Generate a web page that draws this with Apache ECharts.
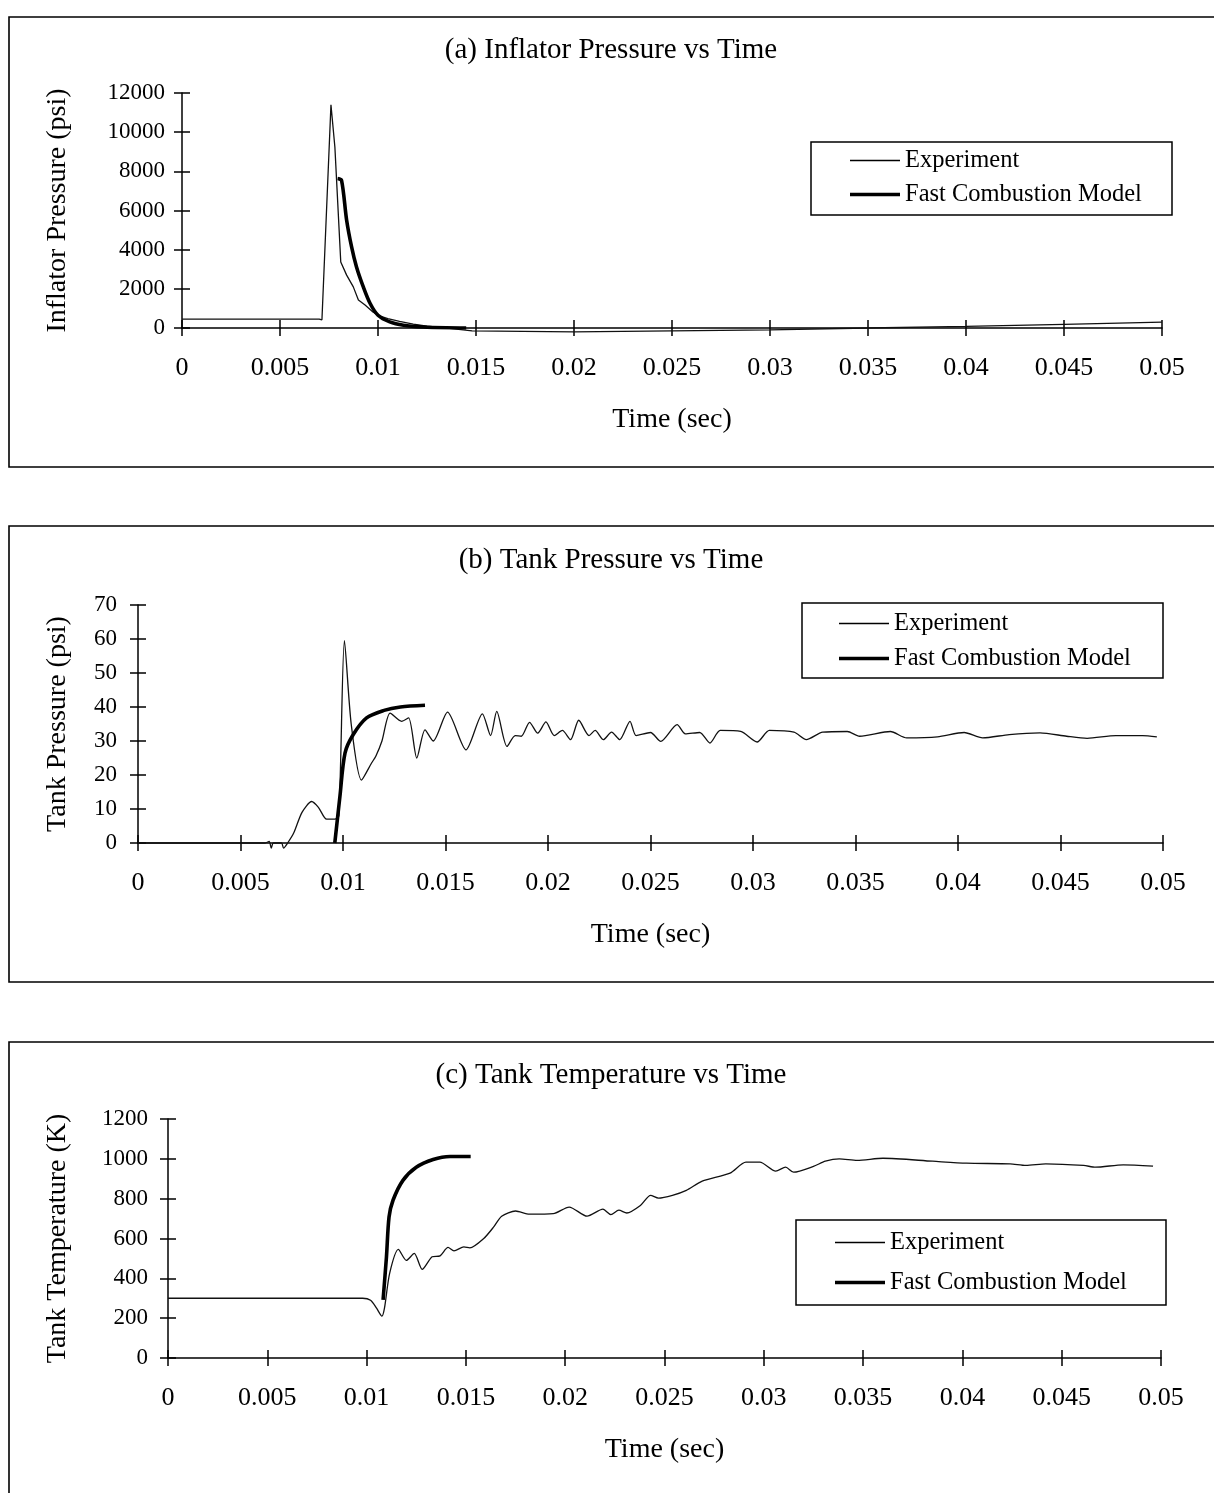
<!DOCTYPE html>
<html>
<head>
<meta charset="utf-8">
<script src="https://cdn.jsdelivr.net/npm/echarts@6/dist/echarts.min.js"></script>
<style>
html,body{margin:0;padding:0;background:#fff;}
#c{width:1214px;height:1493px;}
</style>
</head>
<body>
<div id="c"></div>
<script>
// ---------------- DATA ----------------
var titles = ['(a) Inflator Pressure vs Time', '(b) Tank Pressure vs Time', '(c) Tank Temperature vs Time'];
var yNames = ['Inflator Pressure (psi)', 'Tank Pressure (psi)', 'Tank Temperature (K)'];
var xName = 'Time (sec)';
var seriesNames = ['Experiment', 'Fast Combustion Model'];
var xMin = 0, xMax = 0.05, xStep = 0.005;
var yRanges = [[0, 12000, 2000], [0, 70, 10], [0, 1200, 200]];

// (a) Inflator pressure
var expA_t = [0, 0.007, 0.00714, 0.0076, 0.0078, 0.0081, 0.0084, 0.00874, 0.009, 0.00934, 0.0097, 0.01, 0.0105, 0.0111, 0.0118, 0.0125, 0.0132, 0.014, 0.0148, 0.02, 0.025, 0.03, 0.035, 0.04, 0.045, 0.05];
var expA_p = [450, 450, 420, 11400, 9240, 3370, 2700, 2100, 1430, 1170, 850, 650, 480, 340, 200, 90, 30, -60, -150, -200, -150, -100, 0, 80, 180, 300];
var modA_t = [0.00794, 0.00814, 0.0084, 0.00865, 0.0089, 0.00925, 0.0096, 0.01, 0.0106, 0.0113, 0.0123, 0.0135, 0.0145];
var modA_p = [7630, 7540, 5500, 4150, 3130, 2100, 1250, 650, 310, 140, 50, 10, 0];

// (b) Tank pressure
var expB_t = [0, 0.0062, 0.0064, 0.0065, 0.0066, 0.007, 0.0071, 0.0073, 0.0076, 0.008, 0.00847, 0.0088, 0.0092, 0.0096, 0.0098, 0.01007, 0.0104, 0.0109, 0.0114, 0.0116, 0.0119, 0.0123, 0.01286, 0.0132, 0.0136, 0.014, 0.0144, 0.0151, 0.016, 0.0168, 0.0172, 0.0175, 0.018, 0.0184, 0.0187, 0.0191, 0.0195, 0.0199, 0.0203, 0.0207, 0.0211, 0.0215, 0.022, 0.0223, 0.0227, 0.0231, 0.0235, 0.024, 0.0243, 0.025, 0.0255, 0.0263, 0.0267, 0.0274, 0.0279, 0.0284, 0.0294, 0.0302, 0.0308, 0.032, 0.0326, 0.0334, 0.0346, 0.0352, 0.0367, 0.0375, 0.039, 0.0403, 0.0412, 0.0425, 0.044, 0.0453, 0.0463, 0.0477, 0.049, 0.0497];
var expB_p = [0, 0, 0.5, -1.5, 0, 0, -1.5, 0, 3, 9, 12.2, 10.5, 7, 7, 8, 59.5, 35, 18.5, 23.6, 25.5, 30, 38.2, 35.8, 36.8, 25, 33.3, 30, 38.5, 27.4, 38, 31.6, 38.7, 28.4, 31.6, 31.4, 35.5, 32.3, 35.6, 31.6, 33.1, 30.4, 36.1, 31.6, 33.1, 30.4, 32.6, 30.4, 35.8, 31.6, 32.5, 29.9, 34.8, 32.1, 32.5, 29.4, 33.1, 32.8, 29.7, 33.1, 32.6, 30.4, 32.6, 32.8, 31.4, 32.8, 30.9, 31.2, 32.5, 30.9, 31.9, 32.4, 31.4, 30.8, 31.6, 31.6, 31.2];
var modB_t = [0.0096, 0.00985, 0.0101, 0.0105, 0.01115, 0.012, 0.0128, 0.014];
var modB_p = [0, 13.7, 26.5, 31.9, 36.8, 39, 40, 40.5];

// (c) Tank temperature
var expC_t = [0, 0.0098, 0.0102, 0.0105, 0.01077, 0.0109, 0.01116, 0.0116, 0.012, 0.0124, 0.0128, 0.0133, 0.0137, 0.0141, 0.0144, 0.0149, 0.0152, 0.0159, 0.0164, 0.0168, 0.0175, 0.0182, 0.0194, 0.0202, 0.0211, 0.0219, 0.0223, 0.0227, 0.0231, 0.0238, 0.0243, 0.0247, 0.0254, 0.0261, 0.0269, 0.0283, 0.0291, 0.0298, 0.0306, 0.0311, 0.0315, 0.0325, 0.0331, 0.0338, 0.0347, 0.036, 0.0385, 0.0402, 0.0424, 0.0432, 0.0442, 0.0461, 0.0467, 0.0481, 0.0496];
var expC_v = [300, 300, 290, 250, 210, 250, 425, 545, 490, 525, 445, 508, 513, 555, 538, 558, 553, 600, 658, 712, 738, 722, 725, 758, 712, 747, 720, 742, 728, 767, 817, 803, 817, 842, 888, 928, 983, 983, 938, 958, 933, 962, 988, 1000, 992, 1003, 988, 978, 975, 967, 975, 967, 958, 970, 963];
var modC_t = [0.01083, 0.011, 0.01113, 0.01133, 0.01183, 0.0125, 0.01335, 0.0142, 0.01524];
var modC_v = [292, 508, 708, 792, 892, 958, 997, 1012, 1012];

// ---------------- LAYOUT ----------------
var FONT = 'Liberation Serif';
var grids = [
  {left: 182, top: 93, width: 980, height: 235},
  {left: 138, top: 605, width: 1025, height: 238},
  {left: 168, top: 1119, width: 993, height: 239}
];
var yLabelMargin = [17, 21, 20];
var yNameGap = [110, 66, 96];
var titleCenters = [50, 560, 1075];
var panelBoxes = [[9, 17, 1230, 450], [9, 526, 1230, 456], [9, 1042, 1230, 480]];
var legendBoxes = [[811, 142, 361, 73], [802, 603, 361, 75], [796, 1220, 370, 85]];
var legendPos = [[850, 148, 9], [839, 611, 10], [835, 1230, 15]];

function pairs(t, v) { return t.map(function (x, i) { return [x, v[i]]; }); }

var xAxes = [], yAxes = [], series = [], titleArr = [], legends = [], graphics = [];
var dataSets = [
  [pairs(expA_t, expA_p), pairs(modA_t, modA_p)],
  [pairs(expB_t, expB_p), pairs(modB_t, modB_p)],
  [pairs(expC_t, expC_v), pairs(modC_t, modC_v)]
];

for (var i = 0; i < 3; i++) {
  xAxes.push({
    gridIndex: i, type: 'value', min: xMin, max: xMax, interval: xStep,
    axisLine: {show: true, onZero: false, lineStyle: {color: '#000', width: 1.5}},
    axisTick: {show: true, inside: false, length: 8, lineStyle: {color: '#000', width: 1.5}},
    axisLabel: {show: true, margin: 27, fontFamily: FONT, fontSize: 26, color: '#000'},
    splitLine: {show: false},
    name: xName, nameLocation: 'middle', nameGap: 78,
    nameTextStyle: {fontFamily: FONT, fontSize: 28, color: '#000'}
  });
  xAxes.push({
    gridIndex: i, type: 'value', min: xMin, max: xMax, interval: xStep, position: 'bottom',
    axisLine: {show: false, onZero: false}, axisLabel: {show: false}, splitLine: {show: false},
    axisTick: {show: true, inside: true, length: 8, lineStyle: {color: '#000', width: 1.5}}
  });
  yAxes.push({
    gridIndex: i, type: 'value', min: yRanges[i][0], max: yRanges[i][1], interval: yRanges[i][2],
    axisLine: {show: true, onZero: false, lineStyle: {color: '#000', width: 1.5}},
    axisTick: {show: true, inside: false, length: 8, lineStyle: {color: '#000', width: 1.5}},
    axisLabel: {show: true, margin: yLabelMargin[i], fontFamily: FONT, fontSize: 23, color: '#000',
      formatter: function (v) { return String(v); }},
    splitLine: {show: false},
    name: yNames[i], nameLocation: 'middle', nameGap: yNameGap[i],
    nameTextStyle: {fontFamily: FONT, fontSize: 28, color: '#000'}
  });
  yAxes.push({
    gridIndex: i, type: 'value', min: yRanges[i][0], max: yRanges[i][1], interval: yRanges[i][2], position: 'left',
    axisLine: {show: false, onZero: false}, axisLabel: {show: false}, splitLine: {show: false},
    axisTick: {show: true, inside: true, length: 8, lineStyle: {color: '#000', width: 1.5}}
  });
  series.push({
    name: seriesNames[0], type: 'line', xAxisIndex: 2 * i, yAxisIndex: 2 * i,
    data: dataSets[i][0], showSymbol: false, symbol: 'none', smooth: i === 0 ? false : 0.25,
    clip: false,
    lineStyle: {color: '#111', width: 1.3}, animation: false, z: 3
  });
  series.push({
    name: seriesNames[1], type: 'line', xAxisIndex: 2 * i, yAxisIndex: 2 * i,
    data: dataSets[i][1], showSymbol: false, symbol: 'none', smooth: 0.3,
    lineStyle: {color: '#000', width: 3.6}, animation: false, z: 4
  });
  titleArr.push({
    text: titles[i], left: 611, top: titleCenters[i] - 16, textAlign: 'center', padding: 0,
    textStyle: {fontFamily: FONT, fontSize: 29, fontWeight: 'normal', color: '#000', lineHeight: 32}
  });
  legends.push({
    orient: 'vertical', left: legendPos[i][0], top: legendPos[i][1], padding: 0,
    itemWidth: 50, itemHeight: 14, itemGap: legendPos[i][2], itemTextGap: 6,
    selectedMode: false,
    data: [
      {name: seriesNames[0], icon: 'path://M0,0h50v1.3h-50z'},
      {name: seriesNames[1], icon: 'path://M0,0h50v3.6h-50z'}
    ],
    itemStyle: {color: '#000', borderWidth: 0},
    textStyle: {fontFamily: FONT, fontSize: 24.5, lineHeight: 24, color: '#000'}
  });
  var pb = panelBoxes[i];
  graphics.push({type: 'rect', shape: {x: pb[0], y: pb[1], width: pb[2], height: pb[3]},
    style: {fill: 'none', stroke: '#000', lineWidth: 1.6}, silent: true, z: 0});
  var lb = legendBoxes[i];
  graphics.push({type: 'rect', shape: {x: lb[0], y: lb[1], width: lb[2], height: lb[3]},
    style: {fill: '#fff', stroke: '#000', lineWidth: 1.5}, silent: true, z: 1});
}

var chart = echarts.init(document.getElementById('c'), null, {renderer: 'canvas'});
chart.setOption({
  backgroundColor: '#fff',
  animation: false,
  title: titleArr,
  grid: grids,
  xAxis: xAxes,
  yAxis: yAxes,
  legend: legends,
  graphic: graphics,
  series: series
});
</script>
</body>
</html>
